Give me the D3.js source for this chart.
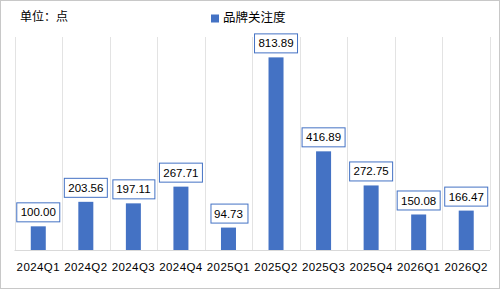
<!DOCTYPE html>
<html>
<head>
<meta charset="utf-8">
<script src="https://cdn.jsdelivr.net/npm/d3@7"></script>
<style>
  body { margin: 0; background: #fff; }
  svg { display: block; }
</style>
</head>
<body>
<script>
// chart data
var categories = ["2024Q1", "2024Q2", "2024Q3", "2024Q4", "2025Q1", "2025Q2", "2025Q3", "2025Q4", "2026Q1", "2026Q2"];
var values = [100.00, 203.56, 197.11, 267.71, 94.73, 813.89, 416.89, 272.75, 150.08, 166.47];
var seriesName = "品牌关注度";
var unitLabel = "单位：点";

var W = 500, H = 289;
var margin = {top: 37, right: 10, bottom: 39, left: 14.5};
var blue = "#4472C4";
var font = "'Liberation Sans', Arial, sans-serif";
var cjkFont = "'Noto Sans CJK SC', sans-serif";

var svg = d3.select("body").append("svg")
    .attr("width", W)
    .attr("height", H);

// outer frame
svg.append("rect")
    .attr("x", 0.5).attr("y", 0.5)
    .attr("width", W - 1).attr("height", H - 1)
    .attr("fill", "#fff")
    .attr("stroke", "#c8c8c8");

var x = d3.scaleBand()
    .domain(categories)
    .range([margin.left, W - margin.right]);

var y = d3.scaleLinear()
    .domain([0, 900])
    .range([H - margin.bottom, margin.top]);

// vertical gridlines at category boundaries
var bounds = categories.map(function(c) { return x(c); }).concat([x.range()[1]]);
svg.append("g").selectAll("line")
    .data(bounds)
  .enter().append("line")
    .attr("x1", function(d) { return Math.round(d) + 0.5; })
    .attr("x2", function(d) { return Math.round(d) + 0.5; })
    .attr("y1", y(900))
    .attr("y2", y(0))
    .attr("stroke", "#e3e3e3");

// baseline
svg.append("line")
    .attr("x1", x.range()[0]).attr("x2", x.range()[1])
    .attr("y1", Math.round(y(0)) + 0.5).attr("y2", Math.round(y(0)) + 0.5)
    .attr("stroke", "#d9d9d9");

// bars
var barW = 15;
svg.append("g").selectAll("rect")
    .data(values)
  .enter().append("rect")
    .attr("x", function(d, i) { return x(categories[i]) + x.bandwidth() / 2 - barW / 2; })
    .attr("y", function(d) { return y(d); })
    .attr("width", barW)
    .attr("height", function(d) { return y(0) - y(d); })
    .attr("fill", blue);

// value labels in boxes
var labels = svg.append("g").selectAll("g")
    .data(values)
  .enter().append("g")
    .attr("transform", function(d, i) {
      return "translate(" + (x(categories[i]) + x.bandwidth() / 2) + "," + (y(d) - 14) + ")";
    });

labels.append("text")
    .attr("text-anchor", "middle")
    .attr("dy", "0.35em")
    .attr("font-family", font)
    .attr("font-size", 11.5)
    .attr("fill", "#000")
    .text(function(d) { return d.toFixed(2); });

labels.each(function() {
  var g = d3.select(this);
  var bb = g.select("text").node().getBBox();
  g.insert("rect", "text")
      .attr("x", Math.round(bb.x - 4) + 0.5)
      .attr("y", -9.5)
      .attr("width", Math.round(bb.width + 8))
      .attr("height", 19)
      .attr("fill", "#fff")
      .attr("stroke", blue);
});

// x axis labels
svg.append("g").selectAll("text")
    .data(categories)
  .enter().append("text")
    .attr("x", function(d) { return x(d) + x.bandwidth() / 2; })
    .attr("y", 267)
    .attr("dy", "0.35em")
    .attr("text-anchor", "middle")
    .attr("font-family", font)
    .attr("font-size", 11.5)
    .attr("letter-spacing", 0.4)
    .attr("fill", "#000")
    .text(function(d) { return d; });

// unit label
svg.append("text")
    .attr("x", 20).attr("y", 17)
    .attr("dy", "0.35em")
    .attr("font-family", cjkFont)
    .attr("font-size", 12)
    .attr("fill", "#000")
    .text(unitLabel);

// legend
svg.append("rect")
    .attr("x", 211).attr("y", 14.5)
    .attr("width", 8).attr("height", 8)
    .attr("fill", blue);
svg.append("text")
    .attr("x", 223).attr("y", 18)
    .attr("dy", "0.35em")
    .attr("font-family", cjkFont)
    .attr("font-size", 12.5)
    .attr("fill", "#000")
    .text(seriesName);
</script>
</body>
</html>
